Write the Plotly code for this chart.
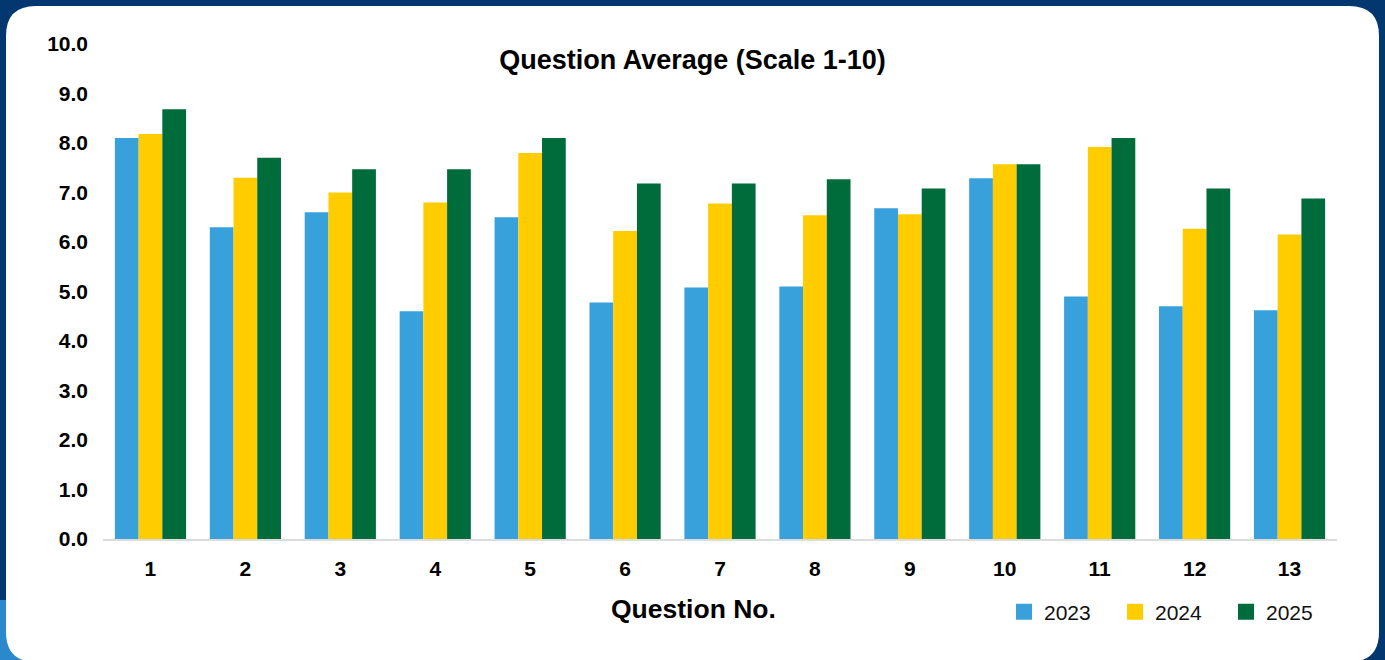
import plotly.graph_objects as go

questions = [str(i) for i in range(1, 14)]
years = ["2023", "2024", "2025"]
v2023 = [8.1, 6.3, 6.6, 4.6, 6.5, 4.78, 5.08, 5.1, 6.68, 7.29, 4.9, 4.7, 4.62]
v2024 = [8.18, 7.3, 7.0, 6.8, 7.8, 6.22, 6.78, 6.54, 6.56, 7.57, 7.92, 6.27, 6.15]
v2025 = [8.68, 7.7, 7.47, 7.47, 8.1, 7.18, 7.18, 7.27, 7.08, 7.57, 8.1, 7.08, 6.88]
colors = ["#38a1db", "#ffcc00", "#006b3b"]

W, H = 1385, 660
ML, MR, MT, MB = 103, 48, 44, 121
PW = W - ML - MR
PH = H - MT - MB
FONT = "Liberation Sans, Arial, Helvetica, sans-serif"


def px(x):
    return (x - ML) / PW


def py(y):
    return (H - MB - y) / PH


def rounded_rect(x0, y0, x1, y1, r):
    pts = [
        f"M {px(x0 + r)},{py(y0)}",
        f"L {px(x1 - r)},{py(y0)}",
        f"Q {px(x1)},{py(y0)} {px(x1)},{py(y0 + r)}",
        f"L {px(x1)},{py(y1 - r)}",
        f"Q {px(x1)},{py(y1)} {px(x1 - r)},{py(y1)}",
        f"L {px(x0 + r)},{py(y1)}",
        f"Q {px(x0)},{py(y1)} {px(x0)},{py(y1 - r)}",
        f"L {px(x0)},{py(y0 + r)}",
        f"Q {px(x0)},{py(y0)} {px(x0 + r)},{py(y0)}",
        "Z",
    ]
    return " ".join(pts)


fig = go.Figure()
for name, vals, col in zip(years, [v2023, v2024, v2025], colors):
    fig.add_trace(go.Bar(x=questions, y=vals, name=name, marker_color=col,
                         marker_line_width=0, showlegend=False))
    fig.add_trace(go.Scatter(x=[None], y=[None], mode="markers", name=name,
                             marker=dict(symbol="square", size=18, color=col)))

shapes = [
    dict(type="rect", xref="paper", yref="paper", x0=px(0), x1=px(45), y0=py(600), y1=py(660),
         fillcolor="#2b88cc", line_width=0, layer="below"),
    dict(type="path", xref="paper", yref="paper", path=rounded_rect(6, 6, 1379, 662, 30),
         fillcolor="white", line_width=0, layer="below"),
]

fig.update_layout(
    width=W, height=H,
    margin=dict(l=ML, r=MR, t=MT, b=MB, pad=0, autoexpand=False),
    paper_bgcolor="#03376f",
    plot_bgcolor="rgba(0,0,0,0)",
    font=dict(family=FONT, color="#000000"),
    barmode="group", bargap=0.25, bargroupgap=0,
    shapes=shapes,
    title=dict(text="<b>Question Average (Scale 1-10)</b>", x=0.5, xref="container",
               xanchor="center", y=1 - 60 / H, yref="container", yanchor="middle",
               font=dict(size=27, family=FONT, color="#000000")),
    xaxis=dict(showgrid=False, showline=True, linecolor="#dcdcdc", linewidth=1.5,
               ticks="", ticklabelstandoff=10,
               tickfont=dict(size=21, family=FONT, weight="bold", color="#000000")),
    yaxis=dict(range=[0, 10], dtick=1, tickformat=".1f", showgrid=False, zeroline=False,
               showline=False, ticks="", ticklabelstandoff=14,
               tickfont=dict(size=21, family=FONT, weight="bold", color="#000000")),
    legend=dict(orientation="h", x=px(1004), y=py(612), xanchor="left", yanchor="middle",
                entrywidth=66, entrywidthmode="pixels", bgcolor="rgba(0,0,0,0)",
                font=dict(size=21, family=FONT, color="#111111"), itemclick=False),
    annotations=[dict(text="<b>Question No.</b>", xref="paper", yref="paper",
                      x=px(693), y=py(609), xanchor="center", yanchor="middle",
                      showarrow=False, font=dict(size=26.5, family=FONT, color="#000000"))],
)

fig.write_html("out.html", config={"displayModeBar": False},
               post_script="document.body.style.margin='0';")
